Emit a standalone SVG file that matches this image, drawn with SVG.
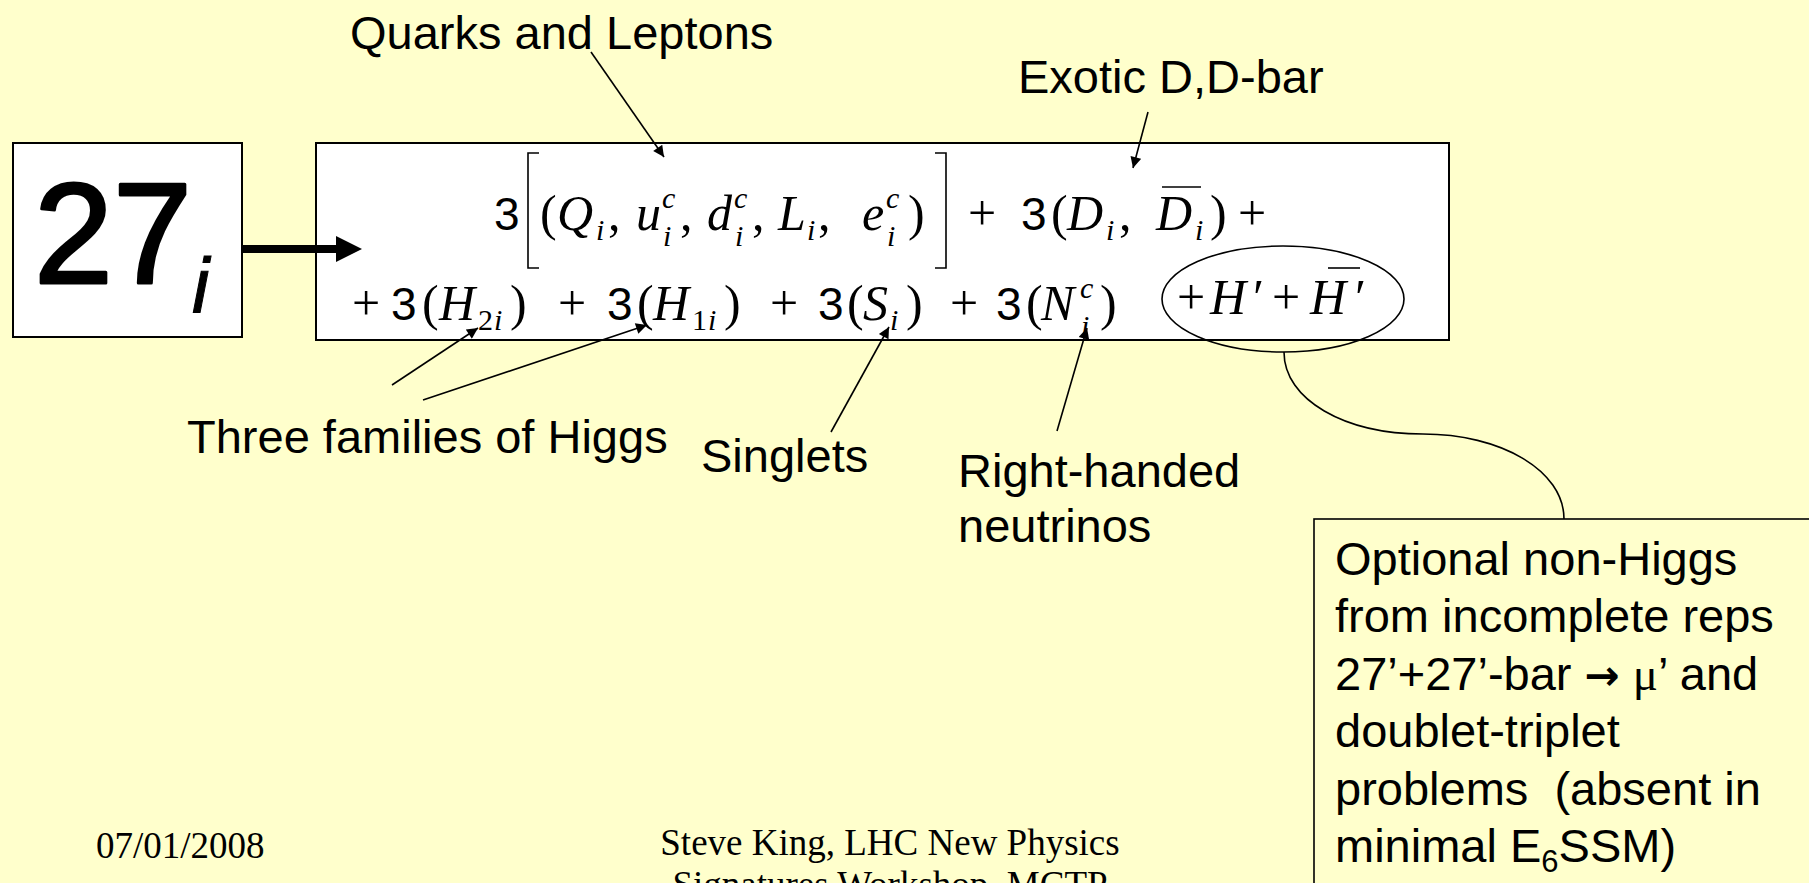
<svg xmlns="http://www.w3.org/2000/svg" width="1809" height="883" viewBox="0 0 1809 883">
<style>
.lbl{font-family:"Liberation Sans",Arial,sans-serif;font-size:47px;fill:#000}
.ft{font-family:"Liberation Serif","Times New Roman",serif;font-size:37px;fill:#000}
.m{font-family:"Liberation Serif","DejaVu Serif",serif;font-size:50px;fill:#000}
.mi{font-style:italic}
.sf{font-family:"Liberation Sans",sans-serif;font-size:46px;font-style:normal}
.sub{font-size:30px}
.ln{stroke:#000;stroke-width:1.6;fill:none}
.box{fill:#fff;stroke:#000;stroke-width:2}
</style>
<defs>
<marker id="ah" viewBox="0 0 10 10" refX="10" refY="5" markerWidth="15" markerHeight="11" markerUnits="userSpaceOnUse" orient="auto"><path d="M0,0L10,5L0,10z" fill="#000"/></marker>
</defs>
<rect width="1809" height="883" fill="#FFFFCC"/>

<g id="node-27">
<rect class="box" x="13" y="143" width="229" height="194"/>
<text x="34" y="283" font-family="Liberation Sans,sans-serif" font-size="142" stroke="#000" stroke-width="3" stroke-linejoin="round">27</text>
<text x="192" y="313" font-family="Liberation Sans,sans-serif" font-size="78" font-style="italic" stroke="#000" stroke-width="1">i</text>
</g>

<g id="node-formula">
<rect class="box" x="316" y="143" width="1133" height="197"/>
<path class="ln" d="M539,153H528V268H539M935,153H946V268H935"/>
<text class="m">
<tspan class="sf" x="494" y="230">3</tspan>
<tspan x="540" y="230">(</tspan>
<tspan class="mi" x="557" y="230">Q</tspan>
<tspan class="mi sub" x="596" y="240">i</tspan>
<tspan x="608" y="230">,</tspan>
<tspan class="mi" x="636" y="230">u</tspan>
<tspan class="mi sub" x="662" y="208">c</tspan>
<tspan class="mi sub" x="663" y="246">i</tspan>
<tspan x="680" y="230">,</tspan>
<tspan class="mi" x="707" y="230">d</tspan>
<tspan class="mi sub" x="734" y="208">c</tspan>
<tspan class="mi sub" x="735" y="246">i</tspan>
<tspan x="752" y="230">,</tspan>
<tspan class="mi" x="778" y="230">L</tspan>
<tspan class="mi sub" x="807" y="240">i</tspan>
<tspan x="818" y="230">,</tspan>
<tspan class="mi" x="862" y="230">e</tspan>
<tspan class="mi sub" x="886" y="208">c</tspan>
<tspan class="mi sub" x="887" y="246">i</tspan>
<tspan x="908" y="230">)</tspan>
<tspan x="968" y="230">+</tspan>
<tspan class="sf" x="1021" y="230">3</tspan>
<tspan x="1051" y="230">(</tspan>
<tspan class="mi" x="1067" y="230">D</tspan>
<tspan class="mi sub" x="1106" y="240">i</tspan>
<tspan x="1119" y="230">,</tspan>
<tspan class="mi" x="1156" y="230">D</tspan>
<tspan class="mi sub" x="1195" y="240">i</tspan>
<tspan x="1210" y="230">)</tspan>
<tspan x="1238" y="230">+</tspan>
</text>
<line class="ln" x1="1162" y1="187" x2="1201" y2="187" stroke-width="2"/>
<text class="m">
<tspan x="352" y="320">+</tspan>
<tspan class="sf" x="391" y="320">3</tspan>
<tspan x="422" y="320">(</tspan>
<tspan class="mi" x="439" y="320">H</tspan>
<tspan class="sub" x="478" y="330">2</tspan>
<tspan class="mi sub" x="494" y="330">i</tspan>
<tspan x="510" y="320">)</tspan>
<tspan x="558" y="320">+</tspan>
<tspan class="sf" x="607" y="320">3</tspan>
<tspan x="637" y="320">(</tspan>
<tspan class="mi" x="653" y="320">H</tspan>
<tspan class="sub" x="692" y="330">1</tspan>
<tspan class="mi sub" x="708" y="330">i</tspan>
<tspan x="724" y="320">)</tspan>
<tspan x="770" y="320">+</tspan>
<tspan class="sf" x="818" y="320">3</tspan>
<tspan x="847" y="320">(</tspan>
<tspan class="mi" x="863" y="320">S</tspan>
<tspan class="mi sub" x="890" y="330">i</tspan>
<tspan x="906" y="320">)</tspan>
<tspan x="950" y="320">+</tspan>
<tspan class="sf" x="996" y="320">3</tspan>
<tspan x="1026" y="320">(</tspan>
<tspan class="mi" x="1041" y="320">N</tspan>
<tspan class="mi sub" x="1080" y="298">c</tspan>
<tspan class="mi sub" x="1081" y="336">i</tspan>
<tspan x="1100" y="320">)</tspan>
</text>
<ellipse class="ln" cx="1283" cy="299" rx="121" ry="53"/>
<text class="m" font-size="56">
<tspan x="1177" y="314">+</tspan>
<tspan class="mi" x="1210" y="314">H</tspan>
<tspan class="mi" x="1250" y="314">′</tspan>
<tspan x="1272" y="314">+</tspan>
<tspan class="mi" x="1310" y="314">H</tspan>
<tspan class="mi" x="1352" y="314">′</tspan>
</text>
<line class="ln" x1="1328" y1="268" x2="1360" y2="268" stroke-width="2"/>
</g>

<g id="label-quarks"><text class="lbl" x="350" y="49">Quarks and Leptons</text></g>
<g id="label-exotic"><text class="lbl" x="1018" y="93">Exotic D,D-bar</text></g>
<g id="label-higgs"><text class="lbl" x="187" y="453">Three families of Higgs</text></g>
<g id="label-singlets"><text class="lbl" x="701" y="472">Singlets</text></g>
<g id="label-rhn"><text class="lbl" x="958" y="487">Right-handed</text><text class="lbl" x="958" y="542">neutrinos</text></g>

<g id="node-optional">
<rect x="1314" y="519" width="520" height="400" fill="#FFFFCC" stroke="#000" stroke-width="1.6"/>
<text class="lbl" x="1335" y="575">Optional non-Higgs</text>
<text class="lbl" x="1335" y="632">from incomplete reps</text>
<text class="lbl" x="1335" y="690">27’+27’-bar <tspan font-family="DejaVu Sans,sans-serif" font-size="42" font-weight="bold">→</tspan> <tspan font-family="Liberation Serif,serif">μ</tspan>’ and</text>
<text class="lbl" x="1335" y="747">doublet-triplet</text>
<text class="lbl" x="1335" y="805" style="white-space:pre">problems  (absent in</text>
<text class="lbl" x="1335" y="862">minimal E<tspan font-size="31" dy="10">6</tspan><tspan dy="-10">SSM)</tspan></text>
</g>

<g id="footer">
<text class="ft" x="96" y="858">07/01/2008</text>
<text class="ft" x="890" y="855" text-anchor="middle">Steve King, LHC New Physics</text>
<text class="ft" x="890" y="897" text-anchor="middle">Signatures Workshop, MCTP</text>
</g>

<g id="connectors">
<line x1="242" y1="249" x2="340" y2="249" stroke="#000" stroke-width="8"/>
<polygon points="336,236 362,249 336,262" fill="#000"/>
<line class="ln" x1="591" y1="52" x2="664" y2="157" marker-end="url(#ah)"/>
<line class="ln" x1="1148" y1="112" x2="1133" y2="168" marker-end="url(#ah)"/>
<line class="ln" x1="392" y1="385" x2="478" y2="328" marker-end="url(#ah)"/>
<line class="ln" x1="423" y1="400" x2="647" y2="325" marker-end="url(#ah)"/>
<line class="ln" x1="831" y1="432" x2="889" y2="327" marker-end="url(#ah)"/>
<line class="ln" x1="1057" y1="431" x2="1087" y2="328" marker-end="url(#ah)"/>
<path class="ln" d="M1284,352C1284,400 1345,434 1423,434C1500,434 1564,470 1564,519"/>
</g>
</svg>
